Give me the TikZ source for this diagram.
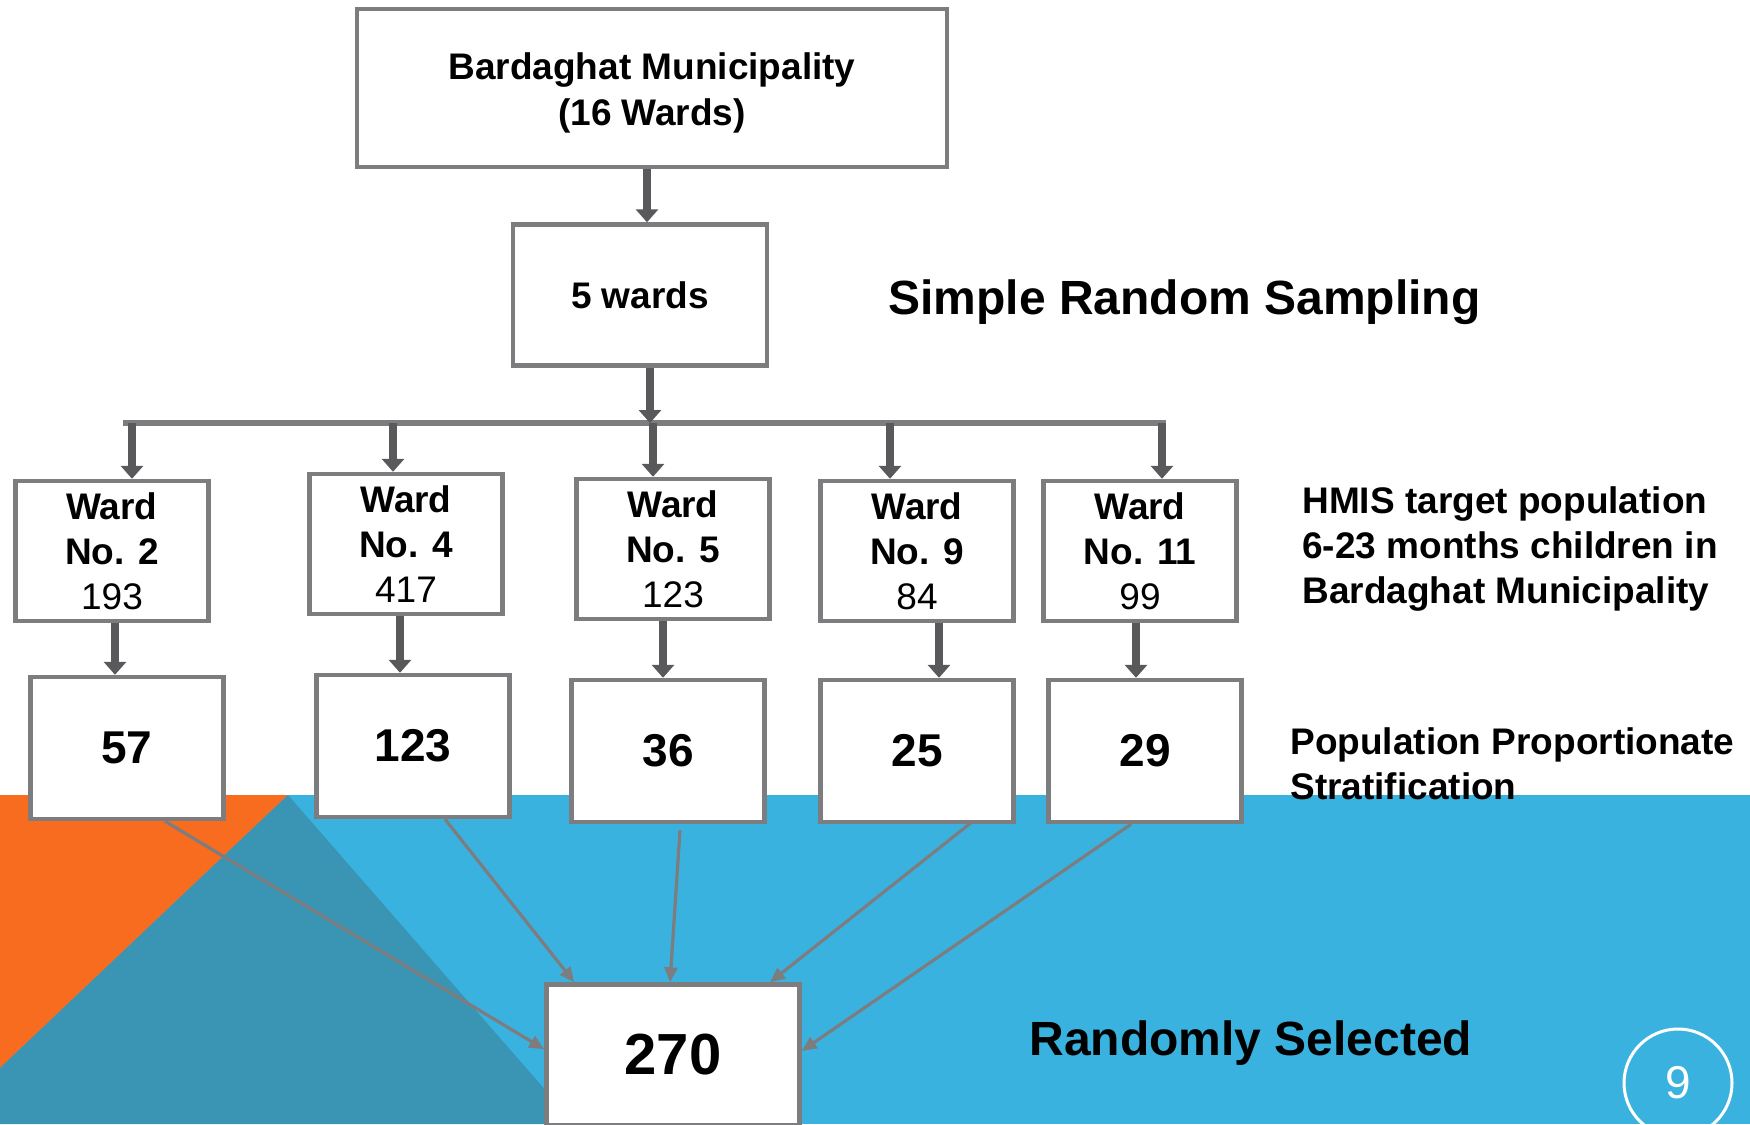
\documentclass[tikz,border=0pt]{standalone}
\usepackage{fontspec}
\setmainfont{Liberation Sans}
\usetikzlibrary{arrows.meta,calc}

\definecolor{bgblue}{RGB}{58,178,224}
\definecolor{bgorange}{RGB}{247,108,30}
\definecolor{bgteal}{RGB}{57,149,179}
\definecolor{boxgray}{RGB}{125,125,128}
\definecolor{arrowgray}{RGB}{89,89,91}

\begin{document}
\begin{tikzpicture}[x=0.5pt,y=-0.5pt,
  box/.style={draw=boxgray, line width=2.2pt, fill=white, align=center, inner sep=0pt},
  wardbox/.style={box, minimum width=96.5pt, minimum height=70pt,
    font=\fontsize{18.5}{22.5}\selectfont},
  countbox/.style={box, minimum width=96.5pt, minimum height=71pt,
    font=\fontsize{23}{27}\selectfont\bfseries},
  bigarrow/.style={draw=arrowgray, line width=4.2pt,
    -{Triangle[width=11pt,length=6.5pt]}},
  thinarrow/.style={draw=boxgray, line width=1.6pt,
    -{Triangle[width=6.5pt,length=7.5pt]}},
  label/.style={anchor=west, inner sep=0pt, align=left},
]
\useasboundingbox (0,0) rectangle (1750,1124);
\clip (0,0) rectangle (1750,1124);

% background bands
\fill[white] (0,0) rectangle (1750,1124);
\fill[bgblue] (0,795) rectangle (1750,1124);
\fill[bgorange] (0,795) -- (288,795) -- (0,1068) -- cycle;
\fill[bgteal] (288,795) -- (0,1068) -- (0,1124) -- (575,1124) -- cycle;

% top levels
\node[box, minimum width=295pt, minimum height=79pt,
  font=\fontsize{18.5}{22.6}\selectfont\bfseries] (top) at (652,88)
  {\raisebox{-2.5pt}[\height][\depth]{\parbox{280pt}{\centering Bardaghat Municipality\\(16 Wards)}}};
\node[box, minimum width=127pt, minimum height=70.5pt,
  font=\fontsize{18.5}{22.3}\selectfont\bfseries] (five) at (640,295) {5 wards};
\node[label, font=\fontsize{24}{28}\selectfont\bfseries] (srs) at (888,302)
  {Simple Random Sampling};

% ward boxes
\node[wardbox] (w2)  at (112,551)  {\textbf{Ward}\\\textbf{No. 2}\\193};
\node[wardbox] (w4)  at (406,544)  {\textbf{Ward}\\\textbf{No. 4}\\417};
\node[wardbox] (w5)  at (673,549)  {\textbf{Ward}\\\textbf{No. 5}\\123};
\node[wardbox] (w9)  at (917,551)  {\textbf{Ward}\\\textbf{No. 9}\\84};
\node[wardbox] (w11) at (1140,551) {\textbf{Ward}\\\textbf{No. 11}\\99};

\node[label, font=\fontsize{18.5}{22.3}\selectfont\bfseries] (hmis) at (1302,549)
  {HMIS target population\\6-23 months children in\\Bardaghat Municipality};

% sample size boxes
\node[countbox] (c2)  at (127,748)  {57};
\node[countbox] (c4)  at (413,746)  {123};
\node[countbox] (c5)  at (668,751)  {36};
\node[countbox] (c9)  at (917,751)  {25};
\node[countbox] (c11) at (1145,751) {29};

\node[label, font=\fontsize{18.5}{22.3}\selectfont\bfseries] (pps) at (1290,764)
  {Population Proportionate\\Stratification};

% final sample
\node[box, minimum width=126.5pt, minimum height=70.5pt,
  font=\fontsize{29}{33}\selectfont\bfseries] (fin) at (673,1055) {270};
\node[label, font=\fontsize{24}{28}\selectfont\bfseries] (rs) at (1029,1043)
  {Randomly Selected};

% page number
\node[draw=white, line width=1.5pt, circle, minimum size=54pt, inner sep=0pt,
  text=white, font=\fontsize{23}{27}\selectfont] (pg) at (1678,1083) {9};

% branching bar
\coordinate (barL) at (123,423);
\coordinate (barR) at (1166,423);
\draw[boxgray, line width=2.6pt] (barL) -- (barR);

% thick connectors
\coordinate (a1) at (647,0);
\draw[bigarrow] (top.south -| a1) -- (five.north -| a1);
\coordinate (a2) at (650,0);
\draw[bigarrow] (five.south -| a2) -- (barL -| a2);

\foreach \x/\n in {132/w2, 393/w4, 653/w5, 890/w9, 1162/w11}{
  \coordinate (d\n) at (\x,423);
  \draw[bigarrow] (d\n) -- (d\n |- \n.north);
}

\foreach \x/\n/\m in {115/w2/c2, 400/w4/c4, 663/w5/c5, 939/w9/c9, 1136/w11/c11}{
  \coordinate (e\n) at (\x,0);
  \draw[bigarrow] (\n.south -| e\n) -- (\m.north -| e\n);
}

% thin connectors into the final sample
\draw[thinarrow] ($(c2.south)+(38,0)$)  -- ($(fin.north west)+(0,67)$);
\draw[thinarrow] ($(c4.south)+(32,0)$)  -- ($(fin.north west)+(30,0)$);
\draw[thinarrow] ($(c5.south)+(12,6)$)  -- ($(fin.north)+(-3,0)$);
\draw[thinarrow] ($(c9.south)+(56,-3)$) -- ($(fin.north)+(97,0)$);
\draw[thinarrow] ($(c11.south)+(-14,0)$) -- ($(fin.east)+(0,-4)$);
\end{tikzpicture}
\end{document}
